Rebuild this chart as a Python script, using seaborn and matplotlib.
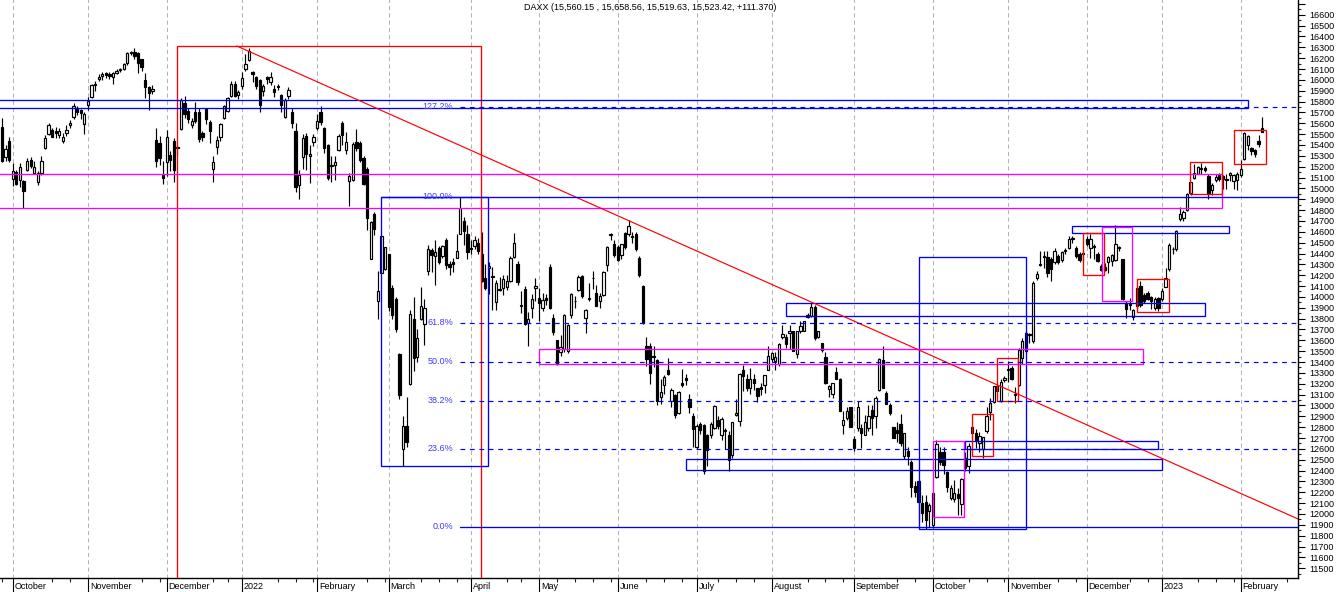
import numpy as np
import pandas as pd
import matplotlib
matplotlib.use("Agg")
import matplotlib.pyplot as plt
import matplotlib.transforms as mtransforms
from matplotlib.patches import Rectangle
from matplotlib.ticker import FixedLocator
import seaborn as sns

# Xetra trading calendar shown on the chart
holidays = ["2021-12-24", "2021-12-31", "2022-04-15", "2022-04-18", "2022-12-26"]
dates = pd.bdate_range("2021-09-28", "2023-02-09", freq="C", holidays=holidays)

title = "DAXX (15,560.15 , 15,658.56, 15,519.63, 15,523.42, +111.370)"
month_labels = ["October", "November", "December", "2022", "February", "March",
                "April", "May", "June", "July", "August", "September", "October",
                "November", "December", "2023", "February"]

# daily candles, one line per month
opens = [
    15570, 15290, 15440,
    15090, 15150, 15080, 15070, 15170, 15260, 15140, 15060, 15140, 15370, 15500, 15540, 15530, 15490, 15440, 15510, 15580, 15660, 15740, 15720, 15590,
    15770, 15840, 15950, 16010, 16040, 16060, 16050, 16030, 16060, 16090, 16100, 16160, 16250, 16260, 16250, 16190, 16000, 15930, 15900, 15450, 15420, 15120,
    15240, 15310, 15440, 15370, 15550, 15790, 15710, 15580, 15700, 15700, 15510, 15730, 15610, 15180, 15380, 15470, 15650, 15710, 15850, 15960, 15860,
    15940, 16100, 16180, 16070, 16030, 16000, 15900, 16030, 15980, 15920, 15940, 15860, 15660, 15850, 15700, 15530, 15030, 15290, 15480, 15300, 15430,
    15560, 15700, 15560, 15400, 15210, 15220, 15350, 15600, 15350, 15070, 15080, 15430, 15420, 15280, 15180, 14350, 14760, 13960, 14220, 14260,
    14400, 14080, 13980, 13470, 12600, 12810, 13200, 13800, 13450, 13800, 13750, 14240, 14430, 14380, 14450, 14380, 14520, 14300, 14320, 14360, 14580, 14700, 14580,
    14450, 14470, 14500, 14400, 14170, 14270, 14190, 13955, 14060, 14080, 14090, 14150, 14370, 14300, 13920, 14070, 13760, 13900, 14080,
    13990, 13900, 13990, 14280, 13810, 13600, 13490, 13520, 13500, 13830, 13960, 14060, 14190, 13810, 13990, 14170, 14040, 13960, 14020, 14290, 14570, 14490,
    14460, 14390, 14590, 14580, 14560, 14580, 14360, 14100, 13550, 13550, 13460, 13420, 13080, 13190, 13330, 13040, 13100, 12930, 13210, 13250, 13060, 12900,
    12620, 12830, 12820, 12730, 12730, 12790, 12870, 12730, 12770, 12730, 12540, 12910, 12860, 13330, 13240, 13160, 13240, 13160, 13170, 13190, 13330,
    13430, 13410, 13380, 13630, 13630, 13670, 13685, 13470, 13685, 13690, 13815, 13825, 13905, 13630, 13575, 13445, 13150, 13105, 13310, 13245, 12820, 12885, 12990,
    12690, 12790, 12790, 12730, 12790, 12960, 12900, 13145, 13420, 13115, 13005, 12800, 12770, 12830, 12530, 12580, 12475, 12260, 12300, 12105, 12110, 12025,
    11900, 12340, 12570, 12570, 12385, 12150, 12135, 12180, 12090, 12520, 12440, 12800, 12745, 12650, 12600, 12760, 12940, 13030, 13130, 13040, 13230,
    13330, 13345, 13110, 13190, 13440, 13500, 13645, 13590, 14175, 14300, 14370, 14365, 14350, 14320, 14380, 14340, 14425, 14450, 14535, 14455, 14395, 14395,
    14530, 14455, 14460, 14395, 14285, 14280, 14320, 14335, 14340, 14450, 14350, 13945, 13930, 13815, 13915, 14100, 14015, 14040, 14000, 13895, 13990,
    13980, 14095, 14260, 14440, 14440, 14720, 14725, 14800, 14955, 15100, 15135, 15180, 15185, 15110, 14985, 15075, 15120, 15110, 15090, 15120, 15070, 15075,
    15120, 15275, 15400, 15370, 15355, 15440, 15560,
]
highs = [
    15650, 15400, 15470,
    15230, 15170, 15230, 15075, 15280, 15290, 15250, 15160, 15300, 15490, 15600, 15560, 15570, 15560, 15510, 15580, 15630, 15790, 15760, 15730, 15700,
    15840, 15960, 15990, 16050, 16070, 16070, 16070, 16070, 16100, 16110, 16160, 16260, 16270, 16290, 16260, 16190, 16060, 15940, 15950, 15560, 15480, 15250,
    15535, 15340, 15460, 15400, 15830, 15850, 15740, 15650, 15800, 15740, 15530, 15730, 15630, 15300, 15480, 15600, 15770, 15840, 15990, 15990, 15910,
    16075, 16240, 16290, 16080, 16040, 16010, 15960, 16040, 16070, 15950, 15960, 15870, 15830, 15930, 15740, 15600, 15170, 15500, 15510, 15400, 15500,
    15690, 15760, 15570, 15410, 15300, 15300, 15500, 15620, 15520, 15140, 15430, 15550, 15440, 15300, 15200, 14700, 14780, 14240, 14570, 14460,
    14400, 14110, 14000, 13480, 12900, 13080, 13880, 14000, 13700, 14090, 13980, 14480, 14450, 14520, 14470, 14480, 14540, 14330, 14360, 14580, 14925, 14740, 14660,
    14520, 14560, 14540, 14600, 14300, 14320, 14280, 14160, 14180, 14200, 14200, 14380, 14590, 14330, 14050, 14100, 13860, 14030, 14170,
    14080, 14040, 14030, 14300, 13840, 13600, 13650, 13840, 13750, 14040, 14010, 14200, 14200, 13890, 14130, 14240, 14110, 14040, 14240, 14470, 14590, 14520,
    14480, 14490, 14600, 14710, 14600, 14600, 14380, 14110, 13630, 13580, 13550, 13430, 13240, 13280, 13440, 13160, 13110, 13130, 13340, 13290, 13110, 12930,
    12830, 12850, 12830, 12740, 12850, 13000, 12900, 12890, 12790, 12760, 12850, 13060, 13300, 13370, 13290, 13345, 13290, 13160, 13210, 13285, 13545,
    13490, 13490, 13580, 13745, 13655, 13740, 13690, 13690, 13780, 13780, 13855, 13940, 13930, 13690, 13575, 13490, 13190, 13210, 13350, 13250, 12945, 12990, 12990,
    12720, 13040, 12830, 12910, 13000, 13000, 13085, 13440, 13545, 13130, 13020, 12805, 12850, 12920, 12750, 12620, 12500, 12300, 12310, 12175, 12175, 12105,
    12200, 12680, 12620, 12620, 12400, 12270, 12310, 12235, 12330, 12570, 12650, 12815, 12780, 12755, 12705, 12990, 13070, 13180, 13190, 13240, 13270,
    13410, 13360, 13170, 13530, 13620, 13685, 13670, 14150, 14240, 14425, 14425, 14425, 14365, 14450, 14395, 14425, 14450, 14560, 14560, 14470, 14410, 14425,
    14565, 14580, 14485, 14410, 14300, 14310, 14380, 14395, 14665, 14470, 14350, 13965, 13990, 13885, 14100, 14150, 14040, 14055, 14010, 13995, 14000,
    14085, 14270, 14500, 14460, 14620, 14830, 14800, 14960, 15060, 15225, 15205, 15230, 15210, 15135, 15050, 15135, 15140, 15125, 15135, 15150, 15135, 15150,
    15260, 15520, 15490, 15380, 15365, 15490, 15659,
]
lows = [
    15240, 15250, 15240,
    15020, 15030, 15010, 14820, 15160, 15190, 15130, 15030, 15120, 15360, 15490, 15470, 15460, 15460, 15420, 15480, 15560, 15640, 15680, 15640, 15500,
    15720, 15830, 15900, 15990, 16000, 16020, 16010, 15960, 16050, 16070, 16090, 16140, 16230, 16190, 16060, 16080, 15830, 15720, 15870, 15200, 15220, 15040,
    15110, 15160, 15060, 15300, 15540, 15650, 15600, 15560, 15600, 15430, 15440, 15590, 15420, 15060, 15320, 15440, 15640, 15700, 15840, 15840, 15820,
    15920, 16080, 16170, 15980, 15920, 15700, 15850, 15960, 15950, 15840, 15910, 15700, 15650, 15820, 15560, 14970, 14900, 15180, 15170, 15050, 15390,
    15540, 15580, 15330, 15080, 15060, 15080, 15340, 15400, 15320, 14840, 15070, 15340, 15240, 15030, 14620, 14350, 14570, 13800, 14220, 14250,
    13870, 13800, 13680, 13060, 12440, 12620, 13190, 13320, 13400, 13790, 13560, 14200, 14230, 14110, 14300, 14360, 14260, 14200, 14230, 14360, 14580, 14480, 14350,
    14400, 14440, 14400, 14140, 14060, 14030, 13880, 13880, 14050, 14020, 14060, 14140, 14360, 14110, 13850, 13740, 13550, 13810, 13960,
    13780, 13870, 13930, 13890, 13650, 13370, 13460, 13490, 13480, 13810, 13900, 14050, 13990, 13670, 13960, 14070, 13920, 13900, 14010, 14240, 14520, 14370,
    14330, 14350, 14440, 14560, 14500, 14420, 14180, 13750, 13360, 13200, 13350, 13000, 13010, 13110, 13280, 12990, 12880, 12920, 13170, 13190, 12930, 12620,
    12600, 12740, 12370, 12440, 12700, 12780, 12780, 12680, 12600, 12400, 12520, 12900, 12810, 13130, 13130, 13110, 13145, 13030, 13100, 13115, 13330,
    13400, 13330, 13360, 13610, 13530, 13520, 13500, 13440, 13670, 13685, 13810, 13815, 13600, 13620, 13490, 13200, 13080, 13070, 13240, 12950, 12740, 12870, 12805,
    12580, 12760, 12610, 12730, 12760, 12730, 12790, 13130, 13160, 13010, 12910, 12700, 12665, 12630, 12510, 12450, 12160, 12160, 11940, 11930, 11862, 11880,
    11870, 12330, 12450, 12370, 12200, 12130, 12110, 11990, 11990, 12400, 12375, 12700, 12610, 12575, 12520, 12745, 12870, 13020, 13130, 13030, 13220,
    13220, 13230, 13020, 13175, 13380, 13485, 13580, 13580, 14160, 14285, 14270, 14185, 14150, 14300, 14300, 14325, 14400, 14440, 14500, 14360, 14320, 14320,
    14470, 14360, 14350, 14320, 14240, 14235, 14225, 14285, 14330, 14425, 13970, 13810, 13880, 13785, 13885, 13905, 13945, 13975, 13885, 13875, 13870,
    13965, 14090, 14240, 14400, 14420, 14700, 14700, 14790, 14940, 15085, 15130, 15135, 15150, 14905, 14935, 15060, 15070, 14990, 14995, 15070, 14995, 14985,
    15105, 15265, 15355, 15305, 15290, 15380, 15520,
]
closes = [
    15250, 15365, 15260,
    15156, 15040, 15195, 14975, 15250, 15205, 15200, 15145, 15250, 15460, 15585, 15475, 15515, 15525, 15470, 15540, 15600, 15755, 15705, 15695, 15690,
    15805, 15955, 15960, 16030, 16055, 16045, 16040, 16065, 16085, 16095, 16150, 16250, 16250, 16220, 16160, 16115, 15935, 15880, 15915, 15255, 15280, 15100,
    15470, 15265, 15170, 15380, 15815, 15685, 15640, 15625, 15620, 15455, 15475, 15635, 15530, 15240, 15445, 15595, 15755, 15835, 15965, 15850, 15885,
    16020, 16150, 16270, 16050, 15945, 15770, 15940, 16010, 16030, 15885, 15935, 15770, 15810, 15910, 15605, 15010, 15125, 15460, 15320, 15320, 15470,
    15620, 15615, 15370, 15100, 15205, 15240, 15480, 15490, 15425, 15115, 15410, 15370, 15265, 15040, 14730, 14690, 14630, 14050, 14565, 14460,
    13905, 13830, 13700, 13095, 12810, 12660, 13845, 13440, 13620, 13920, 13900, 14440, 14390, 14410, 14325, 14470, 14290, 14275, 14305, 14420, 14820, 14605, 14415,
    14445, 14520, 14425, 14150, 14080, 14285, 14180, 14125, 14075, 14165, 14150, 14360, 14500, 14140, 13925, 13755, 13795, 13980, 14100,
    13940, 13970, 13970, 13900, 13675, 13380, 13535, 13830, 13740, 14025, 13965, 14185, 14010, 13880, 13980, 14175, 13920, 14005, 14230, 14460, 14575, 14390,
    14340, 14485, 14460, 14650, 14555, 14445, 14200, 13760, 13430, 13300, 13450, 13040, 13125, 13265, 13290, 13140, 12910, 13120, 13185, 13230, 12990, 12780,
    12810, 12770, 12400, 12590, 12825, 12995, 12810, 12875, 12760, 12500, 12845, 12930, 13290, 13270, 13165, 13240, 13210, 13085, 13150, 13280, 13460,
    13480, 13450, 13570, 13655, 13570, 13685, 13505, 13685, 13735, 13775, 13835, 13905, 13625, 13685, 13515, 13210, 13180, 13205, 13240, 12950, 12870, 12945, 12805,
    12605, 12990, 12745, 12850, 12900, 12885, 13070, 13425, 13165, 13010, 12930, 12700, 12745, 12650, 12745, 12530, 12250, 12200, 12110, 12005, 11945, 12080,
    12190, 12645, 12480, 12450, 12250, 12240, 12190, 12150, 12320, 12420, 12630, 12750, 12680, 12715, 12705, 12900, 13020, 13175, 13175, 13220, 13250,
    13330, 13240, 13100, 13515, 13590, 13670, 13655, 14130, 14215, 14290, 14370, 14225, 14255, 14425, 14320, 14410, 14425, 14530, 14535, 14380, 14340, 14395,
    14490, 14530, 14460, 14335, 14245, 14250, 14365, 14390, 14490, 14450, 13980, 13885, 13930, 13875, 14085, 13930, 13960, 13980, 13965, 13980, 13895,
    14055, 14175, 14480, 14440, 14610, 14765, 14780, 14950, 15055, 15140, 15195, 15180, 15170, 14945, 15035, 15105, 15090, 15090, 15075, 15140, 15120, 15135,
    15180, 15510, 15480, 15340, 15320, 15412, 15523,
]

# fibonacci retracement drawn from the Sept-22 low to the March-22 high
fib_labels = ["0.0%", "23.6%", "38.2%", "50.0%", "61.8%", "100.0%", "127.2%"]
fib_prices = [11880, 12599, 13043, 13403, 13762, 14925, 15753]

# hand-drawn boxes: (first day, last day, low, high, colour) in trading-day units
boxes = [
    (49.0, 133.8, 11000, 16312, "#ff0000"),
    (-5.0, 347.9, 15738, 15811, "#0000ff"),
    (-5.0, 340.9, 14817, 15130, "#ff00ff"),
    (105.9, 135.8, 12439, 14925, "#0000ff"),
    (256.0, 286.0, 11862, 14365, "#0000ff"),
    (150.1, 318.8, 13382, 13518, "#ff00ff"),
    (219.0, 336.0, 13824, 13941, "#0000ff"),
    (191.1, 323.9, 12401, 12504, "#0000ff"),
    (269.0, 322.9, 12596, 12676, "#0000ff"),
    (299.0, 342.7, 14586, 14654, "#0000ff"),
    (302.0, 307.9, 14199, 14586, "#ff0000"),
    (307.2, 315.7, 13963, 14647, "#ff00ff"),
    (317.1, 326.0, 13858, 14162, "#ff0000"),
    (278.0, 283.9, 13044, 13435, "#ff0000"),
    (271.0, 276.9, 12534, 12919, "#ff0000"),
    (260.1, 268.8, 11975, 12676, "#ff00ff"),
    (331.8, 340.9, 14945, 15246, "#ff0000"),
    (344.1, 353.0, 15225, 15538, "#ff0000"),
]
# falling trend line from the January-22 top
trend_days = [65.6, 362.0]
trend_prices = [16312, 11954]

df = pd.DataFrame({"date": dates, "open": opens, "high": highs,
                   "low": lows, "close": closes})
assert len(df) == len(opens) == len(highs) == len(lows) == len(closes)
df["x"] = np.arange(len(df))

sns.set_theme(style="white")
plt.rcParams["font.family"] = ["Liberation Sans", "DejaVu Sans"]

fig = plt.figure(figsize=(13.36, 5.92), dpi=100)
ax = fig.add_axes([0, 14 / 592, 1298 / 1336, 578 / 592])
ax.set_facecolor("white")
x_min, x_max = -0.56, 362.0
ax.set_xlim(x_min, x_max)
ax.set_ylim(11410, 16736)

# month boundaries and weekly ticks
month_x = df.groupby(df.date.dt.to_period("M")).x.first().values[1:]
ext = pd.bdate_range("2021-09-28", "2023-02-28", freq="C", holidays=holidays)
ext_df = pd.DataFrame({"date": ext, "x": np.arange(len(ext))})
week_x = ext_df.groupby(ext_df.date.dt.to_period("W")).x.first().values
minor_x = []
for w in week_x:
    if w in month_x or w > x_max:
        continue
    prev = [(m, lab) for m, lab in zip(month_x, month_labels) if m <= w]
    if prev and w - prev[-1][0] < len(prev[-1][1]) * 1.3:
        continue
    minor_x.append(w)

ax.vlines(month_x, 11000, 17000, colors="#b4b4b4", linestyles=(0, (4, 3)),
          linewidth=0.75, zorder=0)

# candles
up = df.close >= df.open
body_low = np.minimum(df.open, df.close)
body_h = np.maximum((df.close - df.open).abs(), 6)
ax.vlines(df.x, df.low, df.high, colors="black", linewidth=0.85, zorder=3)
ax.bar(df.x[up], body_h[up], bottom=body_low[up], width=0.64, color="white",
       edgecolor="black", linewidth=0.85, zorder=4)
ax.bar(df.x[~up], body_h[~up], bottom=body_low[~up], width=0.64, color="black",
       edgecolor="black", linewidth=0.85, zorder=4)

# drawings
for x0, x1, lo, hi, col in boxes:
    ax.add_patch(Rectangle((x0, lo), x1 - x0, hi - lo, fill=False,
                           edgecolor=col, linewidth=0.95, zorder=5))
ax.plot(trend_days, trend_prices, color="#ff0000", linewidth=0.85, zorder=5)

fib_start = 127.9
label_x = 126.0
for lab, price in zip(fib_labels, fib_prices):
    if lab == "100.0%":
        ax.plot([105.9, x_max], [price, price], color="#0000ff", linewidth=0.95, zorder=5)
    elif lab == "0.0%":
        ax.plot([fib_start, x_max], [price, price], color="#0000ff", linewidth=0.95, zorder=5)
    else:
        ax.plot([fib_start, x_max], [price, price], color="#0000ff", linewidth=0.85,
                linestyle=(0, (4, 4)), zorder=5)
    ax.text(label_x, price, lab, ha="right", va="center", fontsize=6.5,
            color="#3c3cff", zorder=6)

# axes styling
for side in ["top", "left"]:
    ax.spines[side].set_visible(False)
for side in ["bottom", "right"]:
    ax.spines[side].set_color("black")
    ax.spines[side].set_linewidth(1.0)

ax.yaxis.tick_right()
major_y = list(range(11500, 16800, 100))
ax.set_yticks(major_y)
ax.set_yticklabels([str(v) if v <= 16600 else "" for v in major_y])
ax.yaxis.set_minor_locator(FixedLocator(list(range(11450, 16800, 100))))
ax.tick_params(axis="y", which="major", right=True, left=False, length=5,
               width=0.8, pad=3, labelsize=6.5, colors="black")
ax.tick_params(axis="y", which="minor", right=True, left=False, length=2.5,
               width=0.8)

ax.set_xticks(month_x)
ax.set_xticklabels([])
ax.xaxis.set_minor_locator(FixedLocator(minor_x))
ax.tick_params(axis="x", which="major", bottom=True, length=10, width=0.8,
               colors="black")
ax.tick_params(axis="x", which="minor", bottom=True, length=3, width=0.8)

trans = mtransforms.blended_transform_factory(ax.transData, ax.transAxes)
for m, lab in zip(month_x, month_labels):
    ax.text(m + 0.55, -8.7 / 578, lab, transform=trans, ha="left", va="center",
            fontsize=6.5, color="black")

fig.text(650 / 1336, 1 - 7 / 592, title, ha="center", va="center",
         fontsize=6.5, color="black")

fig.savefig("out.png", dpi=100)
